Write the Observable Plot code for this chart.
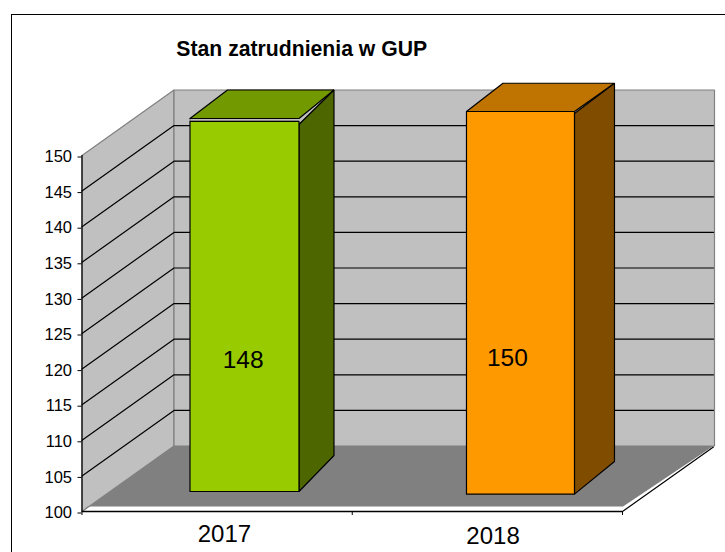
<!DOCTYPE html>
<html><head><meta charset="utf-8">
<script src="https://cdn.jsdelivr.net/npm/d3@7"></script>
<script src="https://cdn.jsdelivr.net/npm/@observablehq/plot@0.6"></script>
<style>
html,body{margin:0;padding:0;background:#fff;overflow:hidden}
#wrap{position:relative;width:725px;height:552px}
#frame{position:absolute;left:11px;top:14px;right:0;bottom:0;border-left:1.5px solid #000;border-top:1.5px solid #000}
#wrap svg{position:absolute;left:0;top:0;background:transparent}
</style></head><body>
<div id="wrap"><div id="frame"></div></div>
<script>
// Chart data
const title = "Stan zatrudnienia w GUP";
const categories = ["2017", "2018"];
const values = [148, 150];
const yTicks = [100, 105, 110, 115, 120, 125, 130, 135, 140, 145, 150];

// 3D look, in scale units (x: category slots, y: axis units)
const depthX = 0.3404, depthY = 9.2, yMin = 100, yMax = 150, slots = categories.length;
const looks = [
  {left:.3996, right:.8029, baseLift:2.81, topLift:6.78, gap:.42, sideX:.1295, sideBase:5.06, sideTopLift:6.36, backX:.1388, topBack:159.2,
   labelX:.596, labelY:121.2, catX:.527, catDy:23,
   front:"#99cc00", side:"#4d6600", top:"#739900"},
  {left:1.4227, right:1.8223, baseLift:2.44, topLift:6.18, gap:0, sideX:.148, sideBase:4.58, sideTopLift:5.9, backX:.135, topBack:160.15,
   labelX:1.574, labelY:121.5, catX:1.521, catDy:25,
   front:"#ff9900", side:"#804d00", top:"#bf7300"}
];
const fontFamily = "Liberation Sans, Arial, sans-serif";

const P = (x, y) => ({x, y});
const poly = (pts, fill, stroke, strokeWidth = 1.2) =>
  Plot.line([...pts, pts[0]], {x:"x", y:"y", fill, stroke, strokeWidth, strokeLinejoin:"miter"});

const walls = [
  poly([P(0,yMax), P(depthX,yMax+depthY), P(depthX,yMin+depthY), P(0,yMin)], "#c0c0c0", "#808080"),
  poly([P(depthX,yMax+depthY), P(slots+depthX,yMax+depthY), P(slots+depthX,yMin+depthY), P(depthX,yMin+depthY)], "#c0c0c0", "#808080"),
  poly([P(0,yMin), P(depthX,yMin+depthY), P(slots+depthX-.004,yMin+depthY), P(slots+.002,yMin+.7), P(.02,yMin+.7)], "#808080", "none")
];
const grid = yTicks.filter(t => t > yMin && t < yMax).map(t =>
  Plot.line([P(0,t), P(depthX,t+depthY), P(slots+depthX-.004,t+depthY)], {x:"x", y:"y", stroke:"#000", strokeWidth:1.2}));

const bars = values.flatMap((v, i) => {
  const b = looks[i];
  const base = yMin + b.baseLift, topV = v + b.topLift;
  const out = [];
  if (b.gap) out.push(poly([P(b.left,topV+b.gap), P(b.right+b.sideX,b.topBack), P(b.right,b.sideTopLift+v), P(b.right,topV), P(b.left,topV)], "#c0c0c0", "#808080"));
  out.push(poly([P(b.left,topV+b.gap), P(b.left+b.backX,b.topBack), P(b.right+b.sideX,b.topBack), P(b.right,topV+b.gap)], b.top, "#000"));
  out.push(poly([P(b.right,v+b.sideTopLift), P(b.right+b.sideX,b.topBack), P(b.right+b.sideX,base+b.sideBase), P(b.right,base)], b.side, "#000"));
  out.push(poly([P(b.left,base), P(b.left,topV), P(b.right,topV), P(b.right,base)], b.front, "#000"));
  return out;
});

const valueLabels = Plot.text(values, {
  x:(d,i)=>looks[i].labelX, y:(d,i)=>looks[i].labelY, text:d=>String(d),
  fontSize:24.5, fontFamily, fill:"#000"
});
const catLabels = categories.map((c, i) => Plot.text([c], {
  x:()=>looks[i].catX, y:()=>yMin, dy:looks[i].catDy, text:d=>d,
  fontSize:24, fontFamily, fill:"#000"
}));

const plot = Plot.plot({
  width:725, height:552,
  marginLeft:81.5, marginRight:103, marginTop:155, marginBottom:41,
  style:{background:"transparent", overflow:"visible"},
  x:{domain:[0,slots]}, y:{domain:[yMin,yMax]},
  marks:[
    ...walls, ...grid, ...bars,
    Plot.ruleY([yMin], {stroke:"#000", strokeWidth:1.5}),
    Plot.line([P(slots,yMin), P(slots+depthX-.004,yMin+depthY-.15)], {x:"x", y:"y", stroke:"#000", strokeWidth:1.2}),
    Plot.ruleX([0], {y1:yMin, y2:yMax, stroke:"#000", strokeWidth:1.2}),
    Plot.axisY({ticks:yTicks, tickSize:4, tickPadding:6, tickFormat:d=>String(d), label:null, stroke:"#000", color:"#000",
      fontSize:16.5, fontFamily, strokeOpacity:1, dy:1.5}),
    Plot.axisX({ticks:[0,1,2], tickSize:4, tickFormat:()=>"", label:null, strokeOpacity:1}),
    valueLabels, ...catLabels,
    Plot.text([title], {x:.813, y:yMax, dy:-106.5, fontSize:21.2, fontWeight:"bold", fontFamily, fill:"#000"})
  ]
});
document.getElementById("wrap").appendChild(plot);
</script>
</body></html>
